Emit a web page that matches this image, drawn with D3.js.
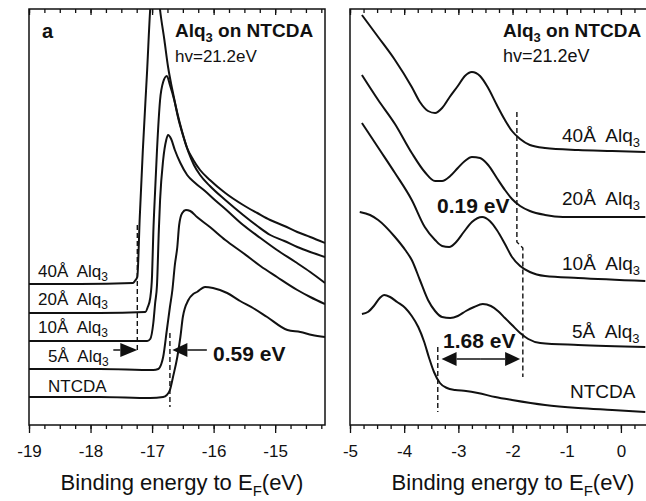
<!DOCTYPE html>
<html>
<head>
<meta charset="utf-8">
<script src="https://cdn.jsdelivr.net/npm/d3@7"></script>
<style>
  body { margin: 0; background: #fff; }
  svg { display: block; font-family: "Liberation Sans", Arial, Helvetica, sans-serif; }
  text { white-space: pre; fill: #111; }
</style>
</head>
<body>
<div class="svg-container"></div>
<script>
// spectra: [binding energy (eV), intensity (arb. units)]
const seriesNames = ["40Å", "20Å", "10Å", "5Å", "NTCDA"];

// panel a: secondary electron cutoff
const left40A = [[-19.00,141],[-18.17,141],[-17.31,142],[-17.28,144],[-17.24,148],[-17.20,208],[-17.15,275],[-17.08,355],[-17.03,416],[-16.98,445],[-16.92,445],[-16.87,415],[-16.80,385],[-16.74,358],[-16.67,335],[-16.59,312],[-16.51,293],[-16.43,277],[-16.33,265],[-16.22,255],[-16.06,245],[-15.81,232],[-15.52,220],[-15.29,212],[-15.08,205],[-14.85,199],[-14.64,193],[-14.43,188],[-14.19,182]];
const left20A = [[-19.00,112],[-17.85,112],[-17.11,113],[-17.07,118],[-17.03,127],[-17.00,150],[-16.98,192],[-16.95,235],[-16.92,275],[-16.87,325],[-16.82,343],[-16.76,349],[-16.71,340],[-16.64,325],[-16.58,308],[-16.50,290],[-16.41,273],[-16.32,260],[-16.22,250],[-16.06,239],[-15.81,225],[-15.52,210],[-15.29,199],[-15.08,190],[-14.85,184],[-14.64,178],[-14.43,173],[-14.19,168]];
const left10A = [[-19.00,84],[-17.85,84],[-17.08,84],[-17.03,86],[-16.98,102],[-16.95,122],[-16.92,140],[-16.89,195],[-16.87,225],[-16.82,265],[-16.77,285],[-16.74,290],[-16.69,286],[-16.63,275],[-16.54,262],[-16.43,250],[-16.30,242],[-16.14,234],[-15.98,225],[-15.81,216],[-15.52,200],[-15.24,187],[-14.97,175],[-14.67,163],[-14.43,153],[-14.19,142]];
const left5A = [[-19.00,56],[-17.85,56],[-16.98,55],[-16.90,56],[-16.85,61],[-16.82,68],[-16.76,95],[-16.71,118],[-16.67,135],[-16.63,160],[-16.59,178],[-16.56,200],[-16.51,212],[-16.45,215],[-16.38,214],[-16.27,208],[-16.06,198],[-15.81,185],[-15.52,172],[-15.24,159],[-14.97,148],[-14.64,135],[-14.43,128],[-14.19,121]];
const leftNTCDA = [[-19.00,28],[-17.85,28],[-17.03,27],[-16.82,28],[-16.76,30],[-16.71,35],[-16.66,48],[-16.59,68],[-16.54,88],[-16.50,108],[-16.41,125],[-16.33,131],[-16.27,133],[-16.14,138],[-16.01,137],[-15.78,132],[-15.57,124],[-15.36,117],[-15.13,108],[-14.80,95],[-14.59,93],[-14.40,90],[-14.19,88]];

// panel b: valence region near the Fermi level
const right40A = [[-4.78,410],[-4.48,388],[-4.17,365],[-3.86,338],[-3.71,323],[-3.56,314],[-3.43,312],[-3.30,317],[-3.16,328],[-3.01,339],[-2.88,349],[-2.75,353],[-2.60,349],[-2.45,337],[-2.29,320],[-2.14,305],[-2.01,294],[-1.86,286],[-1.68,280],[-1.40,277],[-0.79,275],[-0.16,274],[0.45,273]];
const right20A = [[-4.78,350],[-4.48,325],[-4.17,301],[-3.86,272],[-3.62,253],[-3.43,244],[-3.30,244],[-3.15,249],[-3.01,257],[-2.88,264],[-2.75,268],[-2.60,267],[-2.45,260],[-2.29,247],[-2.14,235],[-2.01,226],[-1.86,219],[-1.68,214],[-1.40,210],[-1.07,208],[0.45,208]];
const right10A = [[-4.78,302],[-4.45,275],[-4.17,252],[-3.86,225],[-3.62,198],[-3.43,185],[-3.30,179],[-3.17,178],[-3.04,183],[-2.90,193],[-2.75,203],[-2.56,208],[-2.42,204],[-2.29,195],[-2.14,181],[-2.01,168],[-1.86,159],[-1.68,153],[-1.40,149],[-0.79,147],[0.45,144]];
const right5A = [[-4.82,213],[-4.63,210],[-4.48,205],[-4.17,188],[-3.98,175],[-3.86,165],[-3.71,145],[-3.56,125],[-3.43,114],[-3.30,108],[-3.15,107],[-3.01,109],[-2.86,114],[-2.71,118],[-2.55,121],[-2.40,119],[-2.27,114],[-2.14,107],[-2.01,100],[-1.86,92],[-1.71,86],[-1.49,82],[-0.79,80],[0.45,78]];
const rightNTCDA = [[-4.78,111],[-4.67,113],[-4.56,119],[-4.45,127],[-4.37,130],[-4.26,128],[-4.13,123],[-3.98,117],[-3.86,109],[-3.74,98],[-3.63,83],[-3.54,67],[-3.45,53],[-3.34,42],[-3.21,37],[-3.06,35],[-2.86,34],[-2.64,32],[-2.32,28],[-2.01,25],[-1.40,20],[-0.79,17],[-0.16,15],[0.45,13]];

// tick labels
const leftTicks = [-19, -18, -17, -16, -15];
const rightTicks = [-5, -4, -3, -2, -1, 0];

// onset markers (dashed), [energy, intensity]
const leftOnsetAlq = [[-17.24, 200], [-17.24, 73]];
const leftOnsetNTCDA = [[-16.71, 92], [-16.71, 18]];
const rightOnsetAlq = [[-1.92, 313], [-1.92, 183], [-1.81, 177], [-1.81, 48]];
const rightOnsetNTCDA = [[-3.38, 78], [-3.38, 13]];

// arrows: [from energy, to energy, intensity]
const leftArrows = [[-17.63, -17.24, 75], [-16.11, -16.67, 75]];
const rightArrow = [-3.31, -1.86, 66];

const width = 646, height = 501;
const plotTop = 9, plotBottom = 425;
const ink = "#111";

const svg = d3.select(".svg-container").append("svg")
  .attr("width", width).attr("height", height);

const y = d3.scaleLinear().domain([0, 416]).range([plotBottom, plotTop]);
const xLeft = d3.scaleLinear().domain([-19, -14.19]).range([29, 325]);
const xRight = d3.scaleLinear().domain([-5, 0.5]).range([350, 648]);

const defs = svg.append("defs");

function drawPanel(id, x, ticks) {
  const [x0, x1] = x.range();
  const g = svg.append("g");
  defs.append("clipPath").attr("id", id)
    .append("rect").attr("x", x0).attr("y", plotTop)
    .attr("width", x1 - x0).attr("height", plotBottom - plotTop);

  const [d0, d1] = x.domain();
  const minors = d3.range(Math.ceil(d0 * 4), Math.floor(d1 * 4) + 1).map((i) => i / 4);

  const styleAxis = (s) => {
    s.select(".domain").remove();
    s.selectAll("line").attr("stroke", ink).attr("stroke-width", 1.3);
    s.selectAll("text").attr("font-family", null).attr("font-size", 17).attr("fill", ink);
  };

  // bottom ticks (outward)
  g.append("g").attr("transform", `translate(0,${plotBottom})`)
    .call(d3.axisBottom(x).tickValues(minors).tickSize(4).tickFormat(""))
    .call(styleAxis);
  g.append("g").attr("transform", `translate(0,${plotBottom})`)
    .call(d3.axisBottom(x).tickValues(ticks).tickSize(8).tickPadding(12).tickFormat((d) => String(d)))
    .call(styleAxis);
  // top ticks (inward)
  g.append("g").attr("transform", `translate(0,${plotTop})`)
    .call(d3.axisTop(x).tickValues(minors).tickSize(-4).tickFormat(""))
    .call(styleAxis);
  g.append("g").attr("transform", `translate(0,${plotTop})`)
    .call(d3.axisTop(x).tickValues(ticks).tickSize(-6).tickFormat(""))
    .call(styleAxis);

  // frame
  g.append("rect")
    .attr("x", x0).attr("y", plotTop)
    .attr("width", x1 - x0).attr("height", plotBottom - plotTop)
    .attr("fill", "none").attr("stroke", ink).attr("stroke-width", 1.5);

  return g;
}

function drawCurves(g, id, x, curves) {
  const line = d3.line()
    .x((d) => x(d[0]))
    .y((d) => y(d[1]))
    .curve(d3.curveMonotoneX);
  g.append("g").attr("clip-path", `url(#${id})`)
    .selectAll("path")
    .data(curves)
    .join("path")
    .attr("fill", "none")
    .attr("stroke", ink)
    .attr("stroke-width", 2)
    .attr("stroke-linejoin", "round")
    .attr("d", line);
}

function drawDashed(g, x, pts) {
  const line = d3.line().x((d) => x(d[0])).y((d) => y(d[1]));
  g.append("path")
    .datum(pts)
    .attr("fill", "none")
    .attr("stroke", ink)
    .attr("stroke-width", 1.4)
    .attr("stroke-dasharray", "5,3")
    .attr("d", line);
}

function arrowHead(g, tipX, tipY, dir, len) {
  g.append("path")
    .attr("d", `M${tipX},${tipY}L${tipX - dir * len},${tipY - 7}L${tipX - dir * len},${tipY + 7}Z`)
    .attr("fill", ink);
}

function drawArrow(g, x, from, to, level, len) {
  const x0 = x(from), x1 = x(to), yy = y(level);
  const dir = x1 > x0 ? 1 : -1;
  g.append("line")
    .attr("x1", x0).attr("x2", x1 - dir * len)
    .attr("y1", yy).attr("y2", yy)
    .attr("stroke", ink).attr("stroke-width", 1.5);
  arrowHead(g, x1, yy, dir, len);
}

// text with a subscript part: [main, sub, tail]
function subText(g, px, py, size, parts, bold) {
  const t = g.append("text")
    .attr("x", px).attr("y", py)
    .attr("font-size", size)
    .attr("font-weight", bold ? "bold" : null);
  t.append("tspan").text(parts[0]);
  if (parts[1]) {
    const shift = Math.round(size * 0.25);
    t.append("tspan").attr("font-size", Math.round(size * 0.7)).attr("dy", shift).text(parts[1]);
    if (parts[2]) t.append("tspan").attr("dy", -shift).text(parts[2]);
  }
  return t;
}

function seriesLabel(g, name, px, py, size) {
  if (name === "NTCDA") subText(g, px, py, size, ["NTCDA"]);
  else subText(g, px, py, size, [name + "  Alq", "3"]);
}

// ---- left panel
const gl = drawPanel("clipL", xLeft, leftTicks);
drawCurves(gl, "clipL", xLeft, [left40A, left20A, left10A, left5A, leftNTCDA]);
drawDashed(gl, xLeft, leftOnsetAlq);
drawDashed(gl, xLeft, leftOnsetNTCDA);
drawArrow(gl, xLeft, leftArrows[0][0], leftArrows[0][1], leftArrows[0][2], 17);
drawArrow(gl, xLeft, leftArrows[1][0], leftArrows[1][1], leftArrows[1][2], 15);

gl.append("text").attr("x", 42).attr("y", 38)
  .attr("font-size", 20).attr("font-weight", "bold").text("a");
subText(gl, 175, 37, 19, ["Alq", "3", " on NTCDA"], true);
gl.append("text").attr("x", 175).attr("y", 62).attr("font-size", 17).text("hv=21.2eV");

const leftLabelPos = [[38, 277], [38, 305], [38, 333], [48, 362], [48, 392]];
seriesNames.forEach((n, i) => seriesLabel(gl, n, leftLabelPos[i][0], leftLabelPos[i][1], 17));

gl.append("text").attr("x", 213).attr("y", 361)
  .attr("font-size", 21).attr("font-weight", "bold").text("0.59 eV");

subText(gl, 182, 490, 22, ["Binding energy to E", "F", "(eV)"]).attr("text-anchor", "middle");

// ---- right panel
const gr = drawPanel("clipR", xRight, rightTicks);
drawCurves(gr, "clipR", xRight, [right40A, right20A, right10A, right5A, rightNTCDA]);
drawDashed(gr, xRight, rightOnsetAlq);
drawDashed(gr, xRight, rightOnsetNTCDA);
drawArrow(gr, xRight, (rightArrow[0] + rightArrow[1]) / 2, rightArrow[0], rightArrow[2], 15);
drawArrow(gr, xRight, (rightArrow[0] + rightArrow[1]) / 2, rightArrow[1], rightArrow[2], 15);

subText(gr, 503, 37, 19, ["Alq", "3", " on NTCDA"], true);
gr.append("text").attr("x", 503).attr("y", 62).attr("font-size", 18).text("hv=21.2eV");

const rightLabelPos = [[562, 142], [562, 205], [562, 270], [572, 338], [570, 398]];
seriesNames.forEach((n, i) => seriesLabel(gr, n, rightLabelPos[i][0], rightLabelPos[i][1], 19));

gr.append("text").attr("x", 437).attr("y", 213)
  .attr("font-size", 21).attr("font-weight", "bold").text("0.19 eV");
gr.append("text").attr("x", 443).attr("y", 348)
  .attr("font-size", 21).attr("font-weight", "bold").text("1.68 eV");

subText(gr, 513, 490, 22, ["Binding energy to E", "F", "(eV)"]).attr("text-anchor", "middle");
</script>
</body>
</html>
